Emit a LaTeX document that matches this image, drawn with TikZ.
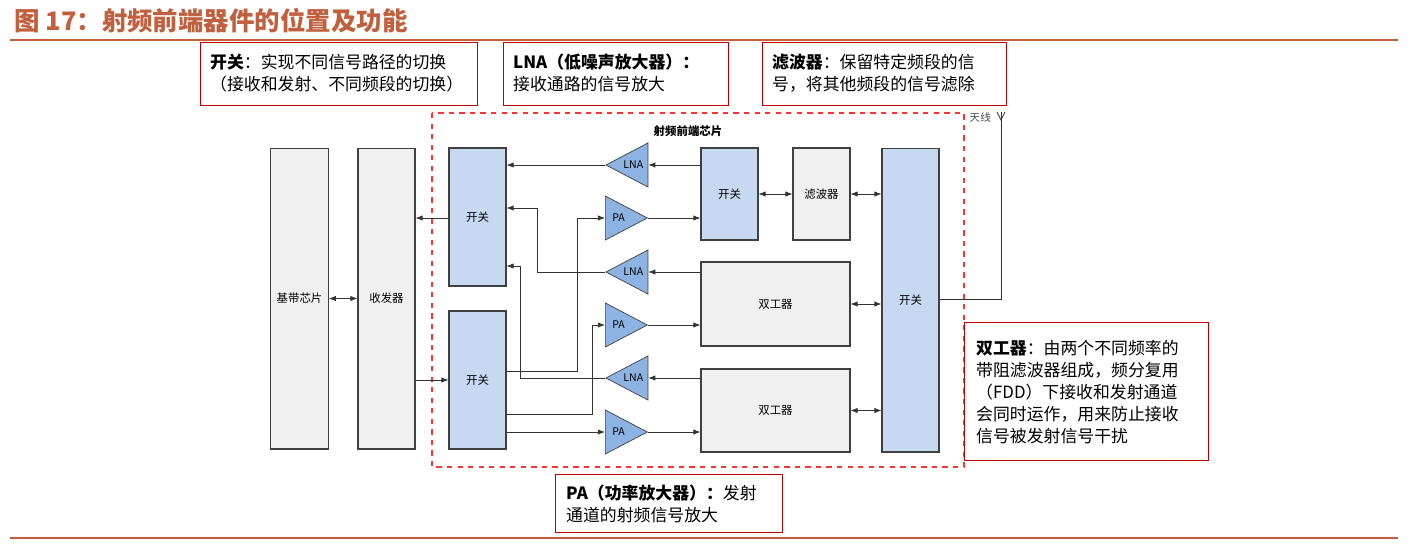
\documentclass[tikz,border=0pt]{standalone}
\usepackage{fontspec}
\setmainfont{Noto Sans CJK SC}
\usetikzlibrary{shapes.geometric,arrows.meta}
\definecolor{boxblue}{RGB}{198,217,240}
\definecolor{boxgray}{RGB}{240,240,240}
\definecolor{ampblue}{RGB}{141,179,226}
\definecolor{callred}{RGB}{192,0,0}
\definecolor{titlebrown}{RGB}{192,96,63}
\tikzset{
  blk/.style={draw=black!75,semithick,fill=boxblue,font=\fontsize{6.5}{7}\selectfont},
  gblk/.style={blk,fill=boxgray},
  lna/.style={draw=black!75,fill=ampblue,isosceles triangle,isosceles triangle stretches,shape border rotate=180,minimum width=0.88cm,minimum height=0.84cm,inner sep=0pt,anchor=apex,font=\fontsize{6}{7}\selectfont},
  pa/.style={lna,shape border rotate=0,anchor=lower side},
  call/.style={draw=callred,thick,align=left,anchor=north west,inner sep=0pt,font=\fontsize{9.6}{12.5}\selectfont},
  sig/.style={-{Latex[length=4pt,width=3pt]},black!80},
  bsig/.style={{Latex[length=4pt,width=3pt]}-{Latex[length=4pt,width=3pt]},black!80}
}
\begin{document}
\begin{tikzpicture}[x=0.02cm,y=-0.02cm]
\useasboundingbox (0,0) rectangle (1416,545);
% title
\node[anchor=west,text=titlebrown,font=\fontsize{14.5}{16}\bfseries\selectfont] (title) at (8,21) {图 17：射频前端器件的位置及功能};
\draw[titlebrown,thick] (10,40) -- (1398,40);
\draw[titlebrown,thick] (10,538) -- (1398,538);
% chip frame
\draw[red!80,dashed,thick] (432,113) rectangle (964,467);
\node[font=\fontsize{6.5}{7}\bfseries\selectfont] (chip) at (688,131) {射频前端芯片};
% blocks
\node[gblk,minimum width=1.14cm,minimum height=6.02cm] (bb) at (299.5,298.5) {基带芯片};
\node[gblk,minimum width=1.14cm,minimum height=6.02cm] (trx) at (386.5,298.5) {收发器};
\node[blk,minimum width=1.14cm,minimum height=2.76cm] (sw1) at (477.5,217) {开关};
\node[blk,minimum width=1.14cm,minimum height=2.76cm] (sw2) at (477.5,380) {开关};
\node[blk,minimum width=1.14cm,minimum height=1.84cm] (sw3) at (729.5,194) {开关};
\node[gblk,minimum width=1.14cm,minimum height=1.84cm] (flt) at (821.5,194) {滤波器};
\node[gblk,minimum width=2.98cm,minimum height=1.68cm] (dup1) at (775.5,304) {双工器};
\node[gblk,minimum width=2.98cm,minimum height=1.66cm] (dup2) at (775.5,410.5) {双工器};
\node[blk,minimum width=1.14cm,minimum height=6.08cm] (sw4) at (910.5,300) {开关};
% amplifiers
\node[lna] (lna1) at (605,165) {LNA};
\node[pa] (pa1) at (605,218) {PA};
\node[lna] (lna2) at (605,272) {LNA};
\node[pa] (pa2) at (605,325) {PA};
\node[lna] (lna3) at (605,378) {LNA};
\node[pa] (pa3) at (605,432) {PA};
% connectors
\draw[bsig] (bb) -- (trx);
\draw[sig] (sw1.west |- 0,218) -- (trx.east |- 0,218);
\draw[sig] (trx.east |- 0,380) -- (sw2.west |- 0,380);
\draw[sig] (sw3.west |- lna1) -- (lna1.lower side);
\draw[sig] (lna1.apex) -- (sw1.east |- lna1);
\draw[sig] (pa1.apex) -- (sw3.west |- pa1);
\draw[sig] (lna2.apex) -- (537,272) -- (537,208) -- (sw1.east |- 0,208);
\draw[sig] (lna3.apex) -- (520,378) -- (520,266) -- (sw1.east |- 0,266);
\draw[sig] (sw2.east |- 0,371) -- (577,371) -- (577,218) -- (pa1.lower side);
\draw[sig] (sw2.east |- 0,414) -- (592,414) -- (592,325) -- (pa2.lower side);
\draw[sig] (sw2.east |- pa3) -- (pa3.lower side);
\draw[sig] (dup1.west |- lna2) -- (lna2.lower side);
\draw[sig] (pa2.apex) -- (dup1.west |- pa2);
\draw[sig] (dup2.west |- lna3) -- (lna3.lower side);
\draw[sig] (pa3.apex) -- (dup2.west |- pa3);
\draw[bsig] (sw3) -- (flt);
\draw[bsig] (flt) -- (sw4.west |- flt);
\draw[bsig] (dup1) -- (sw4.west |- dup1);
\draw[bsig] (dup2) -- (sw4.west |- dup2);
% antenna
\coordinate (ant) at (1001,120);
\draw[black!80] (sw4.east |- 0,299) -- (1001,299) -- (1001,112);
\draw[black!80] (997,112) -- (ant) -- (1005,112);
\node[anchor=east,font=\fontsize{6}{7}\selectfont,text=black!70] (antlbl) at (997,117) {天线};
% callouts
\node[call,minimum width=5.54cm,minimum height=1.26cm] (cswitch) at (200,42) {};
\node[anchor=north west,align=left,font=\fontsize{9.6}{12.5}\selectfont] at (204,48) {\textbf{开关}：实现不同信号路径的切换\\（接收和发射、不同频段的切换）};
\node[call,minimum width=4.5cm,minimum height=1.26cm] (clna) at (503,42) {};
\node[anchor=north west,align=left,font=\fontsize{9.6}{12.5}\selectfont] at (507,48) {\textbf{LNA（低噪声放大器）：}\\接收通路的信号放大};
\node[call,minimum width=4.88cm,minimum height=1.26cm] (cflt) at (762,42) {};
\node[anchor=north west,align=left,font=\fontsize{9.6}{12.5}\selectfont] at (766,48) {\textbf{滤波器}：保留特定频段的信\\号，将其他频段的信号滤除};
\node[call,minimum width=4.88cm,minimum height=2.76cm,fill=white] (cdup) at (964,322) {};
\node[anchor=north west,align=left,font=\fontsize{9.6}{12.5}\selectfont] at (970,334) {\textbf{双工器}：由两个不同频率的\\带阻滤波器组成，频分复用\\（FDD）下接收和发射通道\\会同时运作，用来防止接收\\信号被发射信号干扰};
\node[call,minimum width=4.54cm,minimum height=1.16cm] (cpa) at (555,474) {};
\node[anchor=north west,align=left,font=\fontsize{9.6}{12.5}\selectfont] at (560,479) {\textbf{PA（功率放大器）：}发射\\通道的射频信号放大};
\end{tikzpicture}
\end{document}
